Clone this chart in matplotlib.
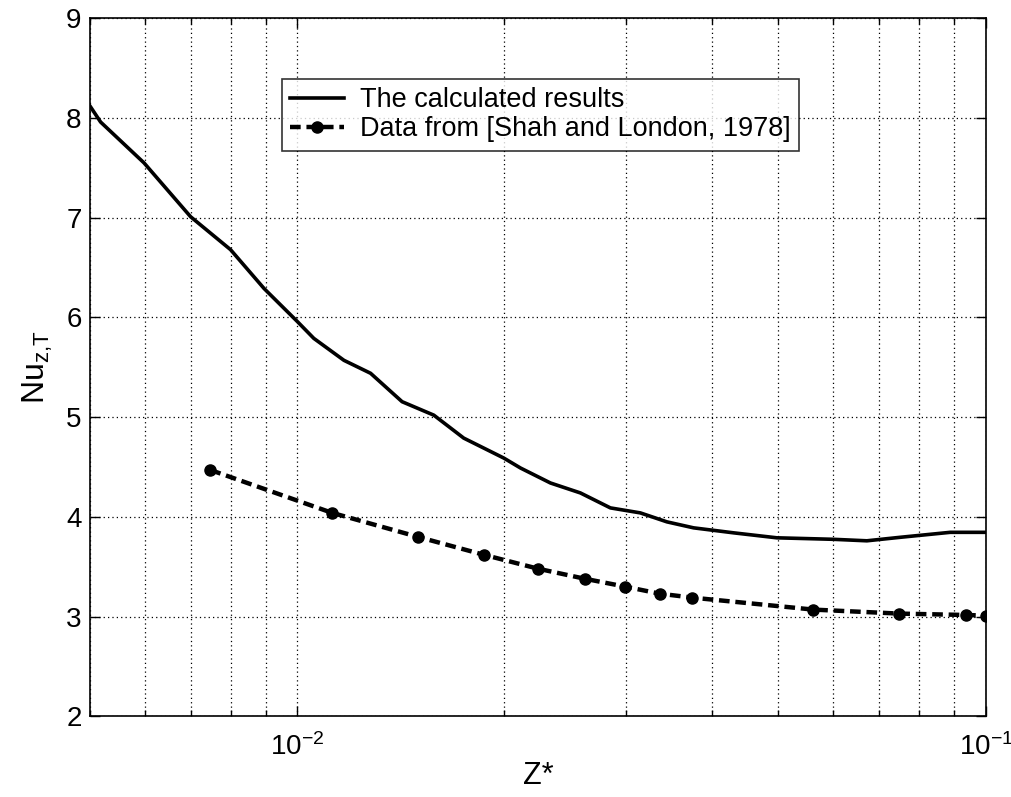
import matplotlib
matplotlib.use("Agg")
import matplotlib.pyplot as plt
from matplotlib.ticker import LogLocator, FixedLocator, NullFormatter

plt.rcParams['font.family'] = ['Liberation Sans', 'DejaVu Sans']
plt.rcParams['mathtext.fontset'] = 'custom'
plt.rcParams['mathtext.rm'] = 'Liberation Sans'
plt.rcParams['mathtext.it'] = 'Liberation Sans'
plt.rcParams['mathtext.default'] = 'regular'
plt.rcParams['axes.unicode_minus'] = False

# Calculated results
calc_z = [0.005, 0.00518, 0.00599, 0.0070, 0.0080, 0.00895, 0.0100, 0.01057, 0.01169,
          0.01278, 0.0142, 0.01579, 0.01745, 0.01995, 0.0211, 0.02332, 0.02578, 0.0285,
          0.0315, 0.03443, 0.03764, 0.04302, 0.04973, 0.06008, 0.0672, 0.0751, 0.0888, 0.1]
calc_nu = [8.12, 7.96, 7.55, 7.01, 6.68, 6.29, 5.96, 5.79, 5.57,
           5.44, 5.155, 5.02, 4.79, 4.59, 4.49, 4.34, 4.24, 4.09,
           4.04, 3.95, 3.89, 3.84, 3.79, 3.775, 3.76, 3.795, 3.845, 3.845]

# Data from Shah and London, 1978
ref_z = [0.00748, 0.01124, 0.01496, 0.01866, 0.02238, 0.02614, 0.02996, 0.0336,
         0.0375, 0.0562, 0.0749, 0.0936, 0.1]
ref_nu = [4.47, 4.04, 3.80, 3.62, 3.48, 3.38, 3.30, 3.23, 3.19, 3.07, 3.03, 3.016, 3.01]

y_ticks = [2, 3, 4, 5, 6, 7, 8, 9]

fig = plt.figure(figsize=(10.11, 7.97), dpi=100)
ax = fig.add_axes([90/1011, 1-716.3/797, (985.7-90)/1011, (716.3-18.3)/797])

ax.plot(calc_z, calc_nu, color='black', lw=2.6, label='The calculated results')
ax.plot(ref_z, ref_nu, color='black', lw=3.2, linestyle=(0, (2.4, 1.3)),
        marker='o', markersize=8, label='Data from [Shah and London, 1978]')

ax.set_xscale('log')
ax.set_xlim(0.005, 0.1)
ax.set_ylim(2, 9)
ax.yaxis.set_major_locator(FixedLocator(y_ticks))
ax.xaxis.set_major_locator(LogLocator(base=10, numticks=10))
ax.xaxis.set_minor_locator(LogLocator(base=10, subs=range(2, 10), numticks=20))
ax.xaxis.set_minor_formatter(NullFormatter())

ax.grid(True, which='major', linestyle=(0, (1, 2.5)), color='black', lw=0.9)
ax.grid(True, which='minor', axis='x', linestyle=(0, (1, 2.5)), color='black', lw=0.9)

ax.tick_params(which='both', direction='in', top=True, right=True, labelsize=20,
               width=1.0, color='black')
ax.tick_params(which='major', length=7)
ax.tick_params(axis='x', which='major', pad=12)
ax.tick_params(axis='y', which='major', pad=6)
ax.tick_params(which='minor', length=4)
for s in ax.spines.values():
    s.set_linewidth(1.2)

ax.set_xlabel('Z*', fontsize=22, labelpad=0)
ax.set_ylabel(r'Nu$_{z{,}T}$', fontsize=23, labelpad=8)

leg = ax.legend(loc='upper left', bbox_to_anchor=((281.7-90)/895.7, 1-(79-18.3)/698),
                fontsize=19.5, frameon=True, fancybox=False, edgecolor='black',
                handlelength=2.0, borderpad=0.3, labelspacing=0.12, handletextpad=0.6,
                borderaxespad=0)
leg.get_frame().set_linewidth(1.2)

fig.savefig('out.png', dpi=100)
